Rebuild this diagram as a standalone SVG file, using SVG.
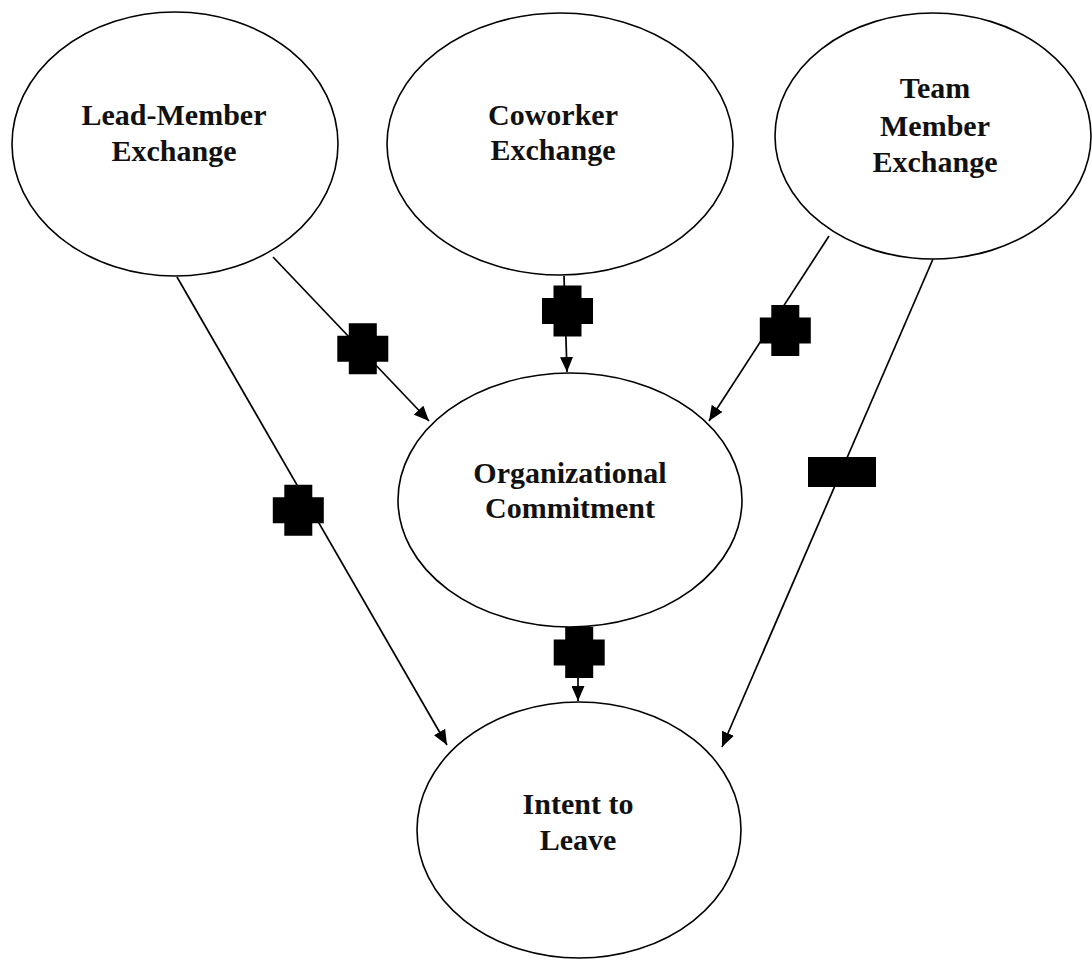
<svg xmlns="http://www.w3.org/2000/svg" width="1092" height="963" viewBox="0 0 1092 963">
<defs>
<style>
.node{fill:#fff;stroke:#000;stroke-width:1.6}
.lbl{font-family:"Liberation Serif","Times New Roman",serif;font-weight:bold;font-size:30px;fill:#111;text-anchor:middle}
.edge{stroke:#000;stroke-width:1.7;fill:none;marker-end:url(#arr)}
.sign{fill:#000}
</style>
<marker id="arr" markerUnits="userSpaceOnUse" markerWidth="16" markerHeight="13" refX="15" refY="6.5" orient="auto">
<path d="M0,0 L15,6.5 L0,13 Z" fill="#000"/>
</marker>
<path id="plus" d="M-14,-25.5 H14 V-13 H25.5 V13 H14 V25.5 H-14 V13 H-25.5 V-13 H-14 Z"/>
</defs>
<rect width="1092" height="963" fill="#fff"/>
<g id="lmx">
<ellipse class="node" cx="175" cy="144" rx="163" ry="132"/>
<text class="lbl" x="174" y="125">Lead-Member</text>
<text class="lbl" x="174" y="161">Exchange</text>
</g>
<g id="cwx">
<ellipse class="node" cx="560" cy="144" rx="173" ry="131"/>
<text class="lbl" x="553" y="125">Coworker</text>
<text class="lbl" x="553" y="160">Exchange</text>
</g>
<g id="tmx">
<ellipse class="node" cx="933" cy="136" rx="158" ry="123"/>
<text class="lbl" x="935" y="98">Team</text>
<text class="lbl" x="935" y="136">Member</text>
<text class="lbl" x="935" y="172">Exchange</text>
</g>
<g id="oc">
<ellipse class="node" cx="570" cy="500" rx="172" ry="127"/>
<text class="lbl" x="570" y="483">Organizational</text>
<text class="lbl" x="570" y="518">Commitment</text>
</g>
<g id="itl">
<ellipse class="node" cx="579" cy="830" rx="162" ry="128"/>
<text class="lbl" x="578" y="814">Intent to</text>
<text class="lbl" x="578" y="850">Leave</text>
</g>
<g id="connectors">
<line class="edge" x1="273" y1="257" x2="429" y2="421"/>
<line class="edge" x1="564" y1="276" x2="567" y2="372"/>
<line class="edge" x1="829" y1="236" x2="709" y2="421"/>
<line class="edge" x1="177" y1="277" x2="447" y2="745"/>
<line class="edge" x1="578" y1="627" x2="578" y2="701"/>
<line class="edge" x1="933" y1="259" x2="722" y2="747"/>
<use href="#plus" class="sign" x="362.8" y="348.7"/>
<use href="#plus" class="sign" x="567.5" y="311"/>
<use href="#plus" class="sign" x="785.3" y="330.5"/>
<use href="#plus" class="sign" x="298.3" y="510.3"/>
<use href="#plus" class="sign" x="579.2" y="652.5"/>
<rect class="sign" x="808" y="457" width="68" height="30"/>
</g>
</svg>
